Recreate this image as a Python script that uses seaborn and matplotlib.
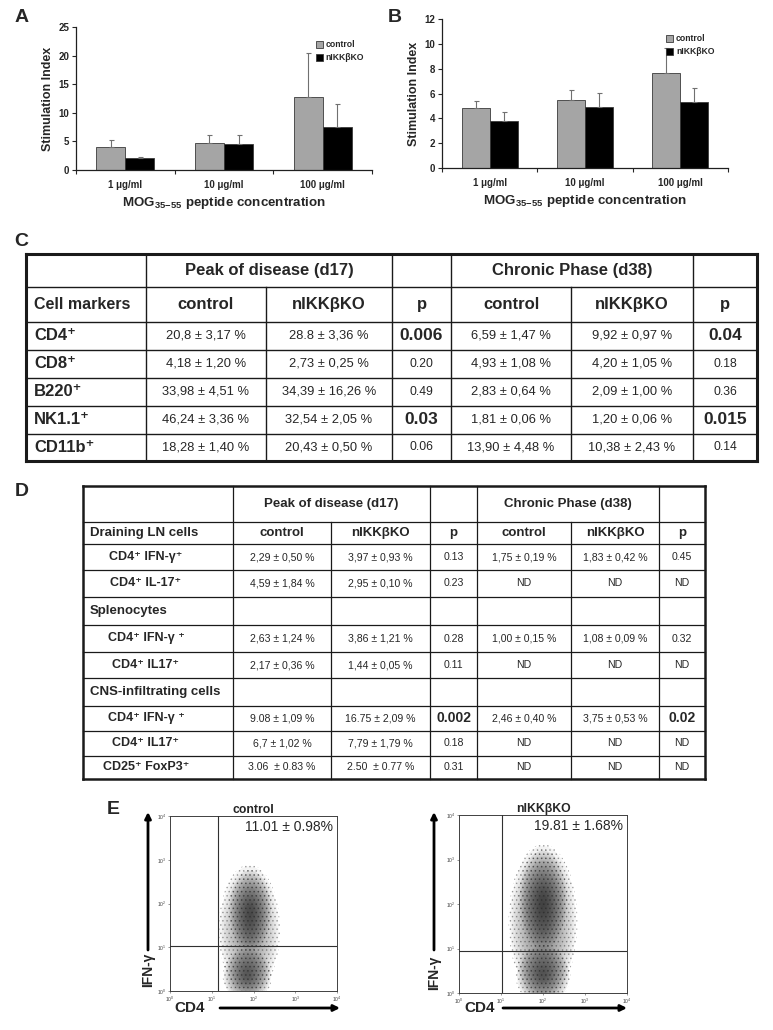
import numpy as np
import pandas as pd
import matplotlib
matplotlib.use("Agg")
import matplotlib.pyplot as plt
from matplotlib.patches import Patch, Ellipse
import seaborn as sns

W, H = 773, 1030

# --- Panels A / B: stimulation index ---
CONCENTRATIONS = ["1 μg/ml", "10 μg/ml", "100 μg/ml"]
GENOTYPES = ["control", "nIKKβKO"]
A_CONTROL = [4.0, 4.8, 12.7]
A_CONTROL_ERR = [1.3, 1.3, 7.8]
A_KO = [2.1, 4.6, 7.5]
A_KO_ERR = [0.1, 1.6, 4.0]
B_CONTROL = [4.85, 5.45, 7.65]
B_CONTROL_ERR = [0.55, 0.85, 2.0]
B_KO = [3.8, 4.9, 5.35]
B_KO_ERR = [0.75, 1.15, 1.1]

# --- Panel C table ---
C_HEAD_GROUPS = ["Peak of disease (d17)", "Chronic Phase (d38)"]
C_HEAD_COLS = ["Cell markers", "control", "nIKKβKO", "p", "control", "nIKKβKO", "p"]
C_MARKERS = ["CD4⁺", "CD8⁺", "B220⁺", "NK1.1⁺", "CD11b⁺"]
C_PEAK_CTRL = ["20,8 ± 3,17 %", "4,18 ± 1,20 %", "33,98 ± 4,51 %", "46,24 ± 3,36 %", "18,28 ± 1,40 %"]
C_PEAK_KO = ["28.8 ± 3,36 %", "2,73 ± 0,25 %", "34,39 ± 16,26 %", "32,54 ± 2,05 %", "20,43 ± 0,50 %"]
C_PEAK_P = ["0.006", "0.20", "0.49", "0.03", "0.06"]
C_CHR_CTRL = ["6,59 ± 1,47 %", "4,93 ± 1,08 %", "2,83 ± 0,64 %", "1,81 ± 0,06 %", "13,90 ± 4,48 %"]
C_CHR_KO = ["9,92 ± 0,97 %", "4,20 ± 1,05 %", "2,09 ± 1,00 %", "1,20 ± 0,06 %", "10,38 ± 2,43 %"]
C_CHR_P = ["0.04", "0.18", "0.36", "0.015", "0.14"]
C_SIG = ["0.006", "0.03", "0.04", "0.015"]

# --- Panel D table ---
D_HEAD_COLS = ["Draining LN cells", "control", "nIKKβKO", "p", "control", "nIKKβKO", "p"]
D_LABELS = ["CD4⁺ IFN-γ⁺", "CD4⁺ IL-17⁺", "Splenocytes", "CD4⁺ IFN-γ ⁺", "CD4⁺ IL17⁺",
            "CNS-infiltrating cells", "CD4⁺ IFN-γ ⁺", "CD4⁺ IL17⁺", "CD25⁺ FoxP3⁺"]
D_SECTION = [False, False, True, False, False, True, False, False, False]
D_PEAK_CTRL = ["2,29 ± 0,50 %", "4,59 ± 1,84 %", "", "2,63 ± 1,24 %", "2,17 ± 0,36 %", "",
               "9.08 ± 1,09 %", "6,7 ± 1,02 %", "3.06  ± 0.83 %"]
D_PEAK_KO = ["3,97 ± 0,93 %", "2,95 ± 0,10 %", "", "3,86 ± 1,21 %", "1,44 ± 0,05 %", "",
             "16.75 ± 2,09 %", "7,79 ± 1,79 %", "2.50  ± 0.77 %"]
D_PEAK_P = ["0.13", "0.23", "", "0.28", "0.11", "", "0.002", "0.18", "0.31"]
D_CHR_CTRL = ["1,75 ± 0,19 %", "ND", "", "1,00 ± 0,15 %", "ND", "", "2,46 ± 0,40 %", "ND", "ND"]
D_CHR_KO = ["1,83 ± 0,42 %", "ND", "", "1,08 ± 0,09 %", "ND", "", "3,75 ± 0,53 %", "ND", "ND"]
D_CHR_P = ["0.45", "ND", "", "0.32", "ND", "", "0.02", "ND", "ND"]
D_SIG = ["0.002", "0.02"]

# --- Panel E: flow cytometry, populations in log10 decades (centre, half-extent, density) ---
CTRL_POP_CD4 = [1.90, 1.92, 1.85]
CTRL_POP_IFNG = [1.40, 1.85, 0.35]
CTRL_POP_RCD4 = [0.70, 0.50, 0.56]
CTRL_POP_RIFNG = [1.45, 0.90, 0.62]
CTRL_POP_DENS = [0.045, 0.058, 0.065]
CTRL_GATE = (1.15, 1.03)
CTRL_PCT = "11.01 ± 0.98%"
KO_POP_CD4 = [2.00, 2.00, 2.00]
KO_POP_IFNG = [1.60, 2.10, 0.40]
KO_POP_RCD4 = [0.78, 0.56, 0.62]
KO_POP_RIFNG = [1.70, 1.10, 0.66]
KO_POP_DENS = [0.05, 0.06, 0.065]
KO_GATE = (1.02, 0.94)
KO_PCT = "19.81 ± 1.68%"

PALETTE = {"control": "#a5a5a5", "nIKKβKO": "#000000"}


def rect(left, top, right, bottom):
    return [left / W, (H - bottom) / H, (right - left) / W, (bottom - top) / H]


def draw_bars(ax, ctrl, ctrl_err, ko, ko_err, ymax, step, leg_anchor):
    df = pd.DataFrame({
        "conc": CONCENTRATIONS * 2,
        "genotype": [GENOTYPES[0]] * 3 + [GENOTYPES[1]] * 3,
        "si": ctrl + ko,
    })
    sns.barplot(data=df, x="conc", y="si", hue="genotype", order=CONCENTRATIONS,
                hue_order=GENOTYPES, palette=PALETTE, width=0.59, gap=0,
                edgecolor="#3a3a3a", linewidth=0.6, errorbar=None, legend=False, ax=ax)
    for cont, errs in zip(ax.containers, [ctrl_err, ko_err]):
        for bar, e in zip(cont, errs):
            xc = bar.get_x() + bar.get_width() / 2
            ax.errorbar(xc, bar.get_height(), yerr=[[0], [e]], fmt="none", ecolor="#707070",
                        elinewidth=0.8, capsize=1.8, capthick=0.8, zorder=1)
    ax.set_xlim(-0.5, 2.5)
    ax.set_ylim(0, ymax)
    ax.set_yticks(range(0, ymax + 1, step))
    ax.set_xticks(range(3))
    ax.set_xticks([-0.5, 0.5, 1.5, 2.5], minor=True)
    ax.tick_params(axis="x", which="major", length=0, pad=7, labelsize=7)
    ax.tick_params(axis="x", which="minor", length=3, width=0.8, direction="out")
    ax.tick_params(axis="y", length=3, width=0.8, direction="out", labelsize=7, pad=2)
    for lab in ax.get_xticklabels() + ax.get_yticklabels():
        lab.set_fontweight("bold")
    sns.despine(ax=ax)
    for s in ("left", "bottom"):
        ax.spines[s].set_linewidth(0.9)
        ax.spines[s].set_color("#202020")
    ax.set_ylabel("Stimulation Index", fontsize=9, fontweight="bold", labelpad=3)
    ax.set_xlabel(r"MOG$_{\mathbf{35\!-\!55}}$ peptide concentration", fontsize=9.6,
                  fontweight="bold", labelpad=4)
    handles = [Patch(facecolor=PALETTE[g], edgecolor="#3a3a3a", linewidth=0.6, label=g)
               for g in GENOTYPES]
    ax.legend(handles=handles, loc="upper right", bbox_to_anchor=leg_anchor, frameon=False,
              prop={"weight": "bold", "size": 6.2}, handlelength=0.8, handleheight=0.8,
              handletextpad=0.35, labelspacing=0.45, borderaxespad=0)


def draw_table(ax0, xs, ys, outer_lw, inner_lw, merged_cols):
    color = "#1a1a1a"
    for i, y in enumerate(ys):
        lw = outer_lw if i in (0, len(ys) - 1) else inner_lw
        ax0.plot([xs[0], xs[-1]], [y, y], color=color, lw=lw, solid_capstyle="projecting")
    for j, x in enumerate(xs):
        lw = outer_lw if j in (0, len(xs) - 1) else inner_lw
        y0 = ys[1] if j in merged_cols else ys[0]
        ax0.plot([x, x], [y0, ys[-1]], color=color, lw=lw, solid_capstyle="projecting")


def draw_flow(ax, pcx, pcy, prx, pry, dens, gate, title, pct):
    ax.set_xlim(0, 4)
    ax.set_ylim(0, 4)
    layers = np.linspace(1.0, 0.15, 14)
    for cx, cy, rx, ry, d in zip(pcx, pcy, prx, pry, dens):
        for s in layers:
            ax.add_patch(Ellipse((cx, cy), 2 * rx * s, 2 * ry * s, facecolor="#151515",
                                 edgecolor="none", alpha=d, zorder=1))
        # stippled rim so the population reads as dots
        ax.add_patch(Ellipse((cx, cy), 2.1 * rx, 2.05 * ry, fill=False, hatch="....",
                             edgecolor="#2a2a2a", linewidth=0, alpha=0.35, zorder=2))
    ax.axvline(gate[0], color="#303030", lw=0.8, zorder=3)
    ax.axhline(gate[1], color="#303030", lw=0.8, zorder=3)
    ticks = range(5)
    ax.set_xticks(ticks)
    ax.set_yticks(ticks)
    ax.set_xticklabels([f"$10^{k}$" for k in ticks])
    ax.set_yticklabels([f"$10^{k}$" for k in ticks])
    ax.tick_params(length=1.5, width=0.4, labelsize=3.6, pad=1, colors="#444444")
    for s in ax.spines.values():
        s.set_linewidth(0.7)
        s.set_color("#404040")
    ax.set_title(title, fontsize=8.8, fontweight="bold", pad=2)
    ax.text(0.975, 0.975, pct, transform=ax.transAxes, ha="right", va="top", fontsize=10)


sns.set_theme(style="ticks")
plt.rcParams["font.family"] = ["Liberation Sans", "DejaVu Sans"]
plt.rcParams["mathtext.fontset"] = "custom"
plt.rcParams["mathtext.rm"] = "Liberation Sans"
plt.rcParams["mathtext.bf"] = "Liberation Sans:bold"
plt.rcParams["hatch.linewidth"] = 0.6

fig = plt.figure(figsize=(W / 100, H / 100), dpi=100)
ax0 = fig.add_axes([0, 0, 1, 1])
ax0.set_xlim(0, W)
ax0.set_ylim(H, 0)
ax0.axis("off")

# panels A, B
axA = fig.add_axes(rect(76, 27, 372, 170))
draw_bars(axA, A_CONTROL, A_CONTROL_ERR, A_KO, A_KO_ERR, 25, 5, (0.985, 0.93))
axB = fig.add_axes(rect(442, 19, 728, 168))
draw_bars(axB, B_CONTROL, B_CONTROL_ERR, B_KO, B_KO_ERR, 12, 2, (0.965, 0.92))

letters = [("A", 22, 18), ("B", 395, 18), ("C", 21, 242), ("D", 22, 492), ("E", 113, 810)]
for t, x, y in letters:
    ax0.text(x, y, t, fontsize=14, fontweight="bold", ha="center", va="center")

# panel C
cx = [26, 146, 266, 392, 451, 571, 693, 757]
cy = [254, 287, 322, 350, 378, 406, 434, 461]
draw_table(ax0, cx, cy, 2.2, 1.0, merged_cols=(2, 5))
cmid = [(cx[i] + cx[i + 1]) / 2 for i in range(7)]
ax0.text((cx[1] + cx[3]) / 2, (cy[0] + cy[1]) / 2, C_HEAD_GROUPS[0], fontsize=12,
         fontweight="bold", ha="center", va="center")
ax0.text((cx[4] + cx[6]) / 2, (cy[0] + cy[1]) / 2, C_HEAD_GROUPS[1], fontsize=12,
         fontweight="bold", ha="center", va="center")
for j, t in enumerate(C_HEAD_COLS):
    x = cx[0] + 8 if j == 0 else cmid[j]
    ax0.text(x, (cy[1] + cy[2]) / 2, t, fontsize=12 if j else 11.5, fontweight="bold",
             ha="left" if j == 0 else "center", va="center")
c_cols = [C_PEAK_CTRL, C_PEAK_KO, C_PEAK_P, C_CHR_CTRL, C_CHR_KO, C_CHR_P]
for i, marker in enumerate(C_MARKERS):
    yc = (cy[i + 2] + cy[i + 3]) / 2
    ax0.text(cx[0] + 8, yc, marker, fontsize=12, fontweight="bold", ha="left", va="center")
    for j, col in enumerate(c_cols):
        v = col[i]
        is_p = j in (2, 5)
        bold = is_p and v in C_SIG
        ax0.text(cmid[j + 1], yc, v, fontsize=12.5 if bold else (8.7 if is_p else 9.3),
                 fontweight="bold" if bold else "normal", ha="center", va="center")

# panel D
dx = [83, 233, 331, 430, 477, 571, 659, 705]
dy = [486, 522, 544, 570, 597, 625, 652, 678, 706, 731, 756, 779]
draw_table(ax0, dx, dy, 1.8, 0.9, merged_cols=(2, 5))
dmid = [(dx[i] + dx[i + 1]) / 2 for i in range(7)]
ax0.text((dx[1] + dx[3]) / 2, (dy[0] + dy[1]) / 2, C_HEAD_GROUPS[0], fontsize=9.5,
         fontweight="bold", ha="center", va="center")
ax0.text((dx[4] + dx[6]) / 2, (dy[0] + dy[1]) / 2, C_HEAD_GROUPS[1], fontsize=9.5,
         fontweight="bold", ha="center", va="center")
for j, t in enumerate(D_HEAD_COLS):
    x = dx[0] + 7 if j == 0 else dmid[j]
    ax0.text(x, (dy[1] + dy[2]) / 2, t, fontsize=9.5, fontweight="bold",
             ha="left" if j == 0 else "center", va="center")
d_cols = [D_PEAK_CTRL, D_PEAK_KO, D_PEAK_P, D_CHR_CTRL, D_CHR_KO, D_CHR_P]
for i, lab in enumerate(D_LABELS):
    yc = (dy[i + 2] + dy[i + 3]) / 2
    if D_SECTION[i]:
        ax0.text(dx[0] + 7, yc, lab, fontsize=9.5, fontweight="bold", ha="left", va="center")
    else:
        ax0.text(146, yc, lab, fontsize=9, fontweight="bold", ha="center", va="center")
    for j, col in enumerate(d_cols):
        v = col[i]
        bold = j in (2, 5) and v in D_SIG
        ax0.text(dmid[j + 1], yc, v, fontsize=10 if bold else 7.6,
                 fontweight="bold" if bold else "normal", ha="center", va="center")

# panel E
axE1 = fig.add_axes(rect(170, 816, 337, 991))
draw_flow(axE1, CTRL_POP_CD4, CTRL_POP_IFNG, CTRL_POP_RCD4, CTRL_POP_RIFNG, CTRL_POP_DENS,
          CTRL_GATE, "control", CTRL_PCT)
axE2 = fig.add_axes(rect(459, 815, 627, 993))
draw_flow(axE2, KO_POP_CD4, KO_POP_IFNG, KO_POP_RCD4, KO_POP_RIFNG, KO_POP_DENS,
          KO_GATE, "nIKKβKO", KO_PCT)

arrow = dict(arrowstyle="-|>", lw=2, color="black", mutation_scale=9, shrinkA=0, shrinkB=0)
for ax_x, lab_y, cd4_x, arr_x0, arr_x1 in [(148, 970, 190, 220, 340), (434, 973, 480, 503, 627)]:
    ax0.annotate("", xy=(ax_x, 812), xytext=(ax_x, 950), arrowprops=arrow)
    ax0.text(ax_x, lab_y, "IFN-γ", rotation=90, fontsize=10, fontweight="bold",
             ha="center", va="center")
    ax0.text(cd4_x, 1008, "CD4", fontsize=11, fontweight="bold", ha="center", va="center")
    ax0.annotate("", xy=(arr_x1, 1008), xytext=(arr_x0, 1008), arrowprops=arrow)

fig.savefig("out.png", dpi=100)
plt.close(fig)
